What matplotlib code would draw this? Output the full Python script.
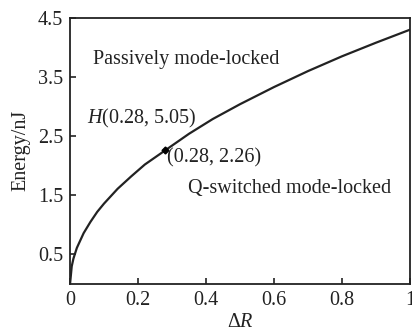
import matplotlib
matplotlib.use("Agg")
import matplotlib.pyplot as plt

# boundary curve
dR = [0, 0.005, 0.01, 0.02, 0.04, 0.06, 0.08, 0.10, 0.14, 0.18, 0.22, 0.28,
      0.35, 0.42, 0.50, 0.60, 0.70, 0.80, 0.90, 1.00]
energy = [0, 0.30, 0.43, 0.61, 0.86, 1.05, 1.22, 1.36, 1.61, 1.82, 2.02, 2.26,
          2.54, 2.79, 3.04, 3.33, 3.60, 3.85, 4.08, 4.30]
point_x, point_y = 0.28, 2.26
xticks = [0, 0.2, 0.4, 0.6, 0.8, 1]
xticklabels = ["0", "0.2", "0.4", "0.6", "0.8", "1"]
yticks = [0.5, 1.5, 2.5, 3.5, 4.5]

plt.rcParams["font.family"] = ["Liberation Serif", "DejaVu Serif"]
plt.rcParams["mathtext.fontset"] = "custom"
plt.rcParams["mathtext.rm"] = "Liberation Serif"
plt.rcParams["mathtext.it"] = "Liberation Serif:italic"

INK = "#222222"
FS = 14.5
fig = plt.figure(figsize=(4.12, 3.31), dpi=100)
ax = fig.add_axes([0.170, 0.142, 0.825, 0.804])

ax.plot(dR, energy, color=INK, lw=1.6)
ax.plot([point_x], [point_y], "D", color="black", ms=3.5)

ax.set_xlim(0, 1)
ax.set_ylim(0, 4.5)
ax.set_xticks(xticks)
ax.set_xticklabels(xticklabels)
ax.set_yticks(yticks)
ax.tick_params(direction="in", length=4, width=1.2, labelsize=FS, colors=INK, pad=5)
for s in ax.spines.values():
    s.set_linewidth(1.3)
    s.set_color(INK)

ax.text(0.068, 3.79, "Passively mode-locked", fontsize=FS, va="center", color=INK)
ax.text(0.05, 2.80, "$H$(0.28, 5.05)", fontsize=FS, va="center", color=INK)
ax.text(0.285, 2.13, "(0.28, 2.26)", fontsize=FS, va="center", color=INK)
ax.text(0.347, 1.62, "Q-switched mode-locked", fontsize=FS, va="center", color=INK)

ax.set_xlabel("Δ$R$", fontsize=FS, color=INK, labelpad=2)
ax.set_ylabel("Energy/nJ", fontsize=FS, color=INK, labelpad=5)

fig.savefig("out.png", dpi=100)
